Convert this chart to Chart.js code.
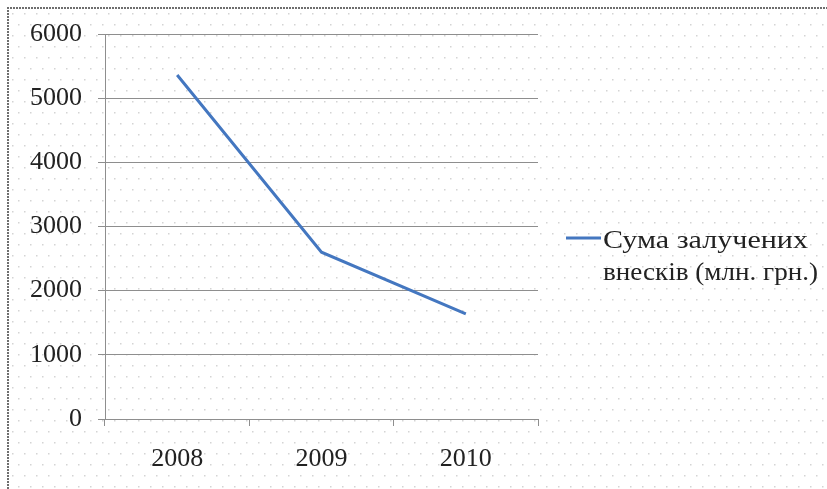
<!DOCTYPE html>
<html>
<head>
<meta charset="utf-8">
<script src="https://cdn.jsdelivr.net/npm/chart.js@4"></script>
<style>
  html, body { margin: 0; padding: 0; background: #fff; }
  canvas { display: block; }
</style>
</head>
<body>
<canvas id="chart" width="827" height="489"></canvas>
<script>
// Deposits raised, by year
const years = ['2008', '2009', '2010'];
const deposits = [5360, 2600, 1640];
const seriesLabel = ['Сума залучених', 'внесків (млн. грн.)'];
const yTicks = [0, 1000, 2000, 3000, 4000, 5000, 6000];

const lineColor = '#4477c0';
const gridColor = '#8e8e8e';
const serif = '"Liberation Serif", "Times New Roman", serif';

// Dotted paper texture plus the dotted frame on the left/top edges
const paper = {
  id: 'paper',
  beforeDraw(chart) {
    const ctx = chart.ctx;
    const w = chart.width, h = chart.height;
    ctx.save();
    ctx.fillStyle = '#ffffff';
    ctx.fillRect(0, 0, w, h);
    ctx.fillStyle = '#d4d4d4';
    let row = 0;
    for (let y = 13; y < h; y += 11, row++) {
      const shift = (row % 2) ? 6 : 0;
      for (let x = 12 + shift; x < w; x += 12) {
        ctx.fillRect(x, y, 1.5, 1.5);
      }
    }
    ctx.strokeStyle = '#6e6e6e';
    ctx.lineWidth = 2;
    ctx.setLineDash([2, 1]);
    ctx.beginPath();
    ctx.moveTo(8, h);
    ctx.lineTo(8, 8);
    ctx.lineTo(w, 8);
    ctx.stroke();
    ctx.restore();
  }
};

// Legend to the right of the plot, label wrapped over two lines
const sideLegend = {
  id: 'sideLegend',
  afterDraw(chart) {
    const ctx = chart.ctx;
    const ds = chart.data.datasets[0];
    ctx.save();
    ctx.strokeStyle = ds.borderColor;
    ctx.lineWidth = 3;
    ctx.beginPath();
    ctx.moveTo(566, 238);
    ctx.lineTo(601, 238);
    ctx.stroke();
    ctx.fillStyle = '#222';
    ctx.font = '26px ' + serif;
    ctx.textBaseline = 'alphabetic';
    const lines = ds.label;
    const targets = [205, 215];
    lines.forEach((t, i) => {
      const tw = ctx.measureText(t).width;
      const sx = targets[i] / tw;
      ctx.save();
      ctx.translate(603, 248 + i * 32);
      ctx.scale(sx, 1);
      ctx.fillText(t, 0, 0);
      ctx.restore();
    });
    ctx.restore();
  }
};

new Chart(document.getElementById('chart'), {
  type: 'line',
  data: {
    labels: years,
    datasets: [{
      label: seriesLabel,
      data: deposits,
      borderColor: lineColor,
      backgroundColor: lineColor,
      borderWidth: 3,
      pointRadius: 0,
      tension: 0,
      fill: false
    }]
  },
  options: {
    responsive: false,
    animation: false,
    devicePixelRatio: 1,
    layout: { padding: { left: 0, top: 34, right: 289, bottom: 0 } },
    plugins: {
      legend: { display: false },
      tooltip: { enabled: false }
    },
    scales: {
      x: {
        offset: true,
        grid: {
          offset: true,
          drawOnChartArea: false,
          drawTicks: true,
          tickLength: 7,
          color: gridColor
        },
        border: { display: true, color: gridColor },
        ticks: {
          color: '#222',
          padding: 18,
          font: { family: serif, size: 26 }
        },
        afterFit(scale) { scale.height = 70; }
      },
      y: {
        min: 0,
        max: 6000,
        afterBuildTicks(scale) { scale.ticks = yTicks.map(v => ({ value: v })); },
        grid: {
          color: gridColor,
          tickLength: 7
        },
        border: { display: true, color: gridColor },
        ticks: {
          color: '#222',
          padding: 16,
          font: { family: serif, size: 26 },
          callback: (v) => String(v)
        },
        afterFit(scale) { scale.width = 105; }
      }
    }
  },
  plugins: [paper, sideLegend]
});
</script>
</body>
</html>
